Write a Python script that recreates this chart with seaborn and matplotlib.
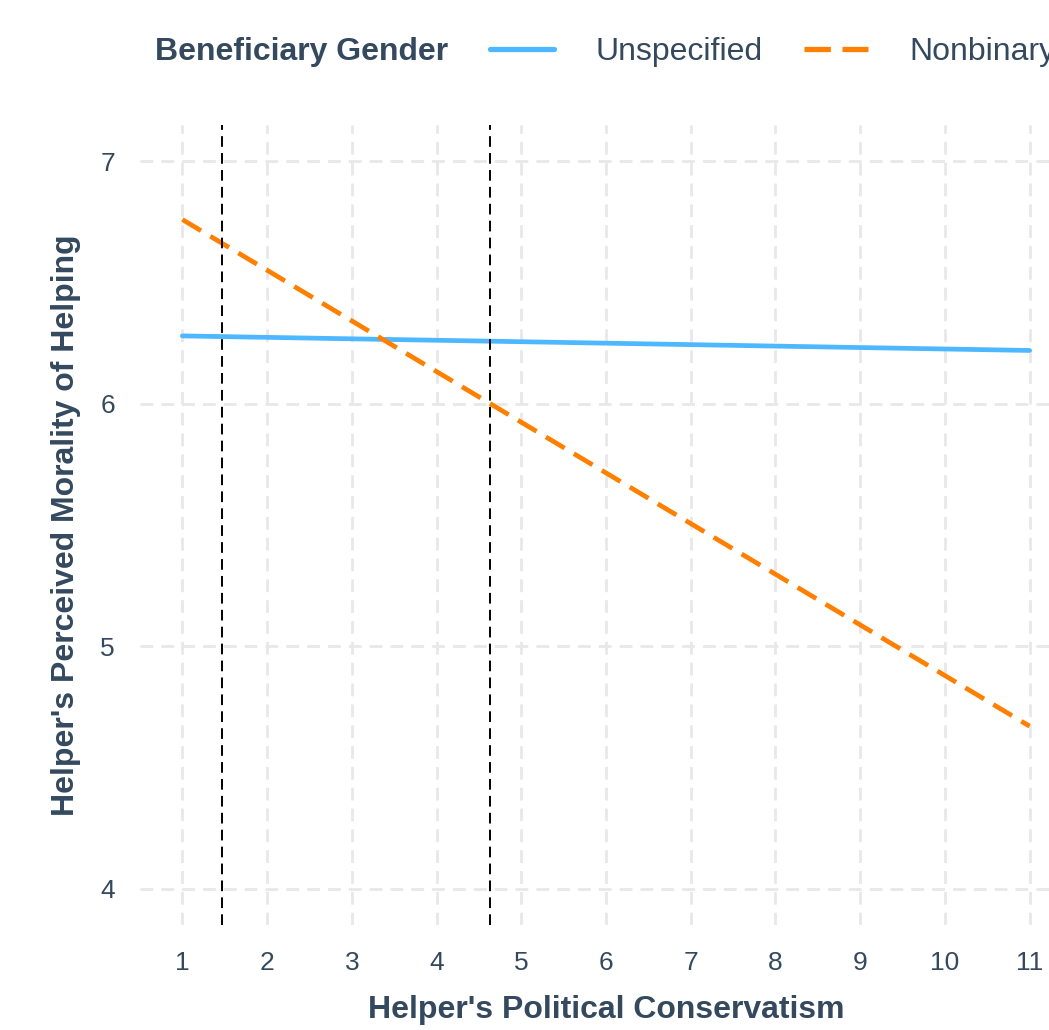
import pandas as pd
import seaborn as sns
import matplotlib.pyplot as plt
from matplotlib.lines import Line2D

# values
conservatism = [1, 11]
unspecified = [6.28, 6.22]
nonbinary = [6.76, 4.67]
jn_points = [1.47, 4.63]   # vertical reference lines

x_ticks = list(range(1, 12))
y_ticks = [4, 5, 6, 7]

groups = ['Unspecified', 'Nonbinary']
colors = {'Unspecified': '#4DB8FF', 'Nonbinary': '#FF7F00'}
text_col = '#34495E'

df = pd.concat([
    pd.DataFrame({'x': conservatism, 'y': unspecified, 'gender': 'Unspecified'}),
    pd.DataFrame({'x': conservatism, 'y': nonbinary, 'gender': 'Nonbinary'}),
], ignore_index=True)

sns.set_theme(style='white')
plt.rcParams['font.family'] = ['Liberation Sans', 'DejaVu Sans']

fig = plt.figure(figsize=(10.49, 10.30), dpi=100)
ax = fig.add_axes([140/1049, 1 - 925/1030, 932/1049, 800/1030])

# dashed grid
for xv in x_ticks:
    ax.axvline(xv, color='#E8E8E8', lw=2, dashes=(4.6, 2.9), zorder=0)
for yv in y_ticks:
    ax.axhline(yv, color='#E8E8E8', lw=2, dashes=(4.6, 2.9), zorder=0)

sns.lineplot(data=df, x='x', y='y', hue='gender', style='gender',
             hue_order=groups, style_order=groups, palette=colors,
             dashes={'Unspecified': '', 'Nonbinary': (4.6, 2.3)},
             lw=3.4, legend=False, ax=ax, zorder=3)

for xv in jn_points:
    ax.axvline(xv, color='black', lw=1.4, dashes=(5.5, 3.2), zorder=4)

ax.set_xlim(0.5, 11.5)
ax.set_ylim(3.85, 7.15)
ax.set_xticks(x_ticks)
ax.set_yticks(y_ticks)
ax.tick_params(length=0, labelsize=19, labelcolor=text_col)
ax.tick_params(axis='x', pad=19)
ax.tick_params(axis='y', pad=18)
for s in ax.spines.values():
    s.set_visible(False)

ax.set_xlabel("Helper's Political Conservatism", fontsize=23, fontweight='bold',
              color=text_col, labelpad=14)
ax.set_ylabel("Helper's Perceived Morality of Helping", fontsize=23,
              fontweight='bold', color=text_col, labelpad=14)

# legend on top, title to the left
fig.text(155/1049, 1 - 52/1030, 'Beneficiary Gender', fontsize=23,
         fontweight='bold', color=text_col, va='center', ha='left')
handles = [Line2D([], [], color=colors['Unspecified'], lw=3.8),
           Line2D([], [], color=colors['Nonbinary'], lw=3.8, dashes=(5, 2.2))]
leg = fig.legend(handles, groups, loc='center left',
                 bbox_to_anchor=(490/1049, 1 - 52/1030), ncol=2, frameon=False,
                 fontsize=23, handlelength=2.0, handletextpad=1.3,
                 columnspacing=1.3, borderaxespad=0, borderpad=0)
for t in leg.get_texts():
    t.set_color(text_col)

fig.savefig('out.png', dpi=100)
